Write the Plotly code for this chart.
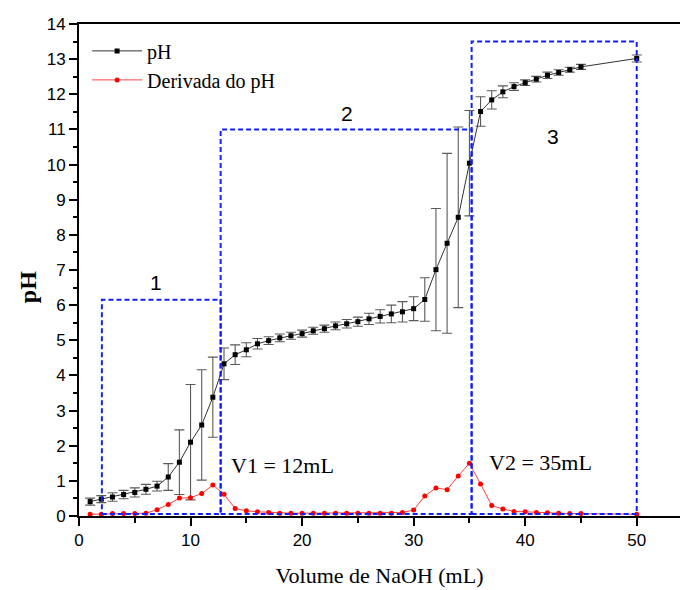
import plotly.graph_objects as go

# ---- data ----
volume_ml = list(range(1, 46)) + [50]

ph_values = [0.41, 0.48, 0.54, 0.61, 0.67, 0.76, 0.85, 1.11, 1.53, 2.10,
             2.59, 3.38, 4.33, 4.59, 4.73, 4.90, 4.99, 5.07, 5.13, 5.19,
             5.27, 5.33, 5.41, 5.47, 5.53, 5.61, 5.68, 5.75, 5.81, 5.90,
             6.16, 7.01, 7.76, 8.50, 10.04, 11.51, 11.84, 12.07, 12.22, 12.33,
             12.43, 12.54, 12.62, 12.70, 12.78, 13.02]

ph_errors = [0.10, 0.10, 0.12, 0.12, 0.13, 0.14, 0.14, 0.38, 0.92, 1.64,
             1.57, 1.14, 0.45, 0.28, 0.20, 0.15, 0.11, 0.11, 0.10, 0.10,
             0.10, 0.10, 0.11, 0.12, 0.13, 0.16, 0.19, 0.25, 0.29, 0.34,
             0.62, 1.74, 2.56, 2.57, 1.50, 0.42, 0.26, 0.17, 0.11, 0.08,
             0.08, 0.09, 0.08, 0.07, 0.07, 0.10]

derivative_values = [0.05, 0.05, 0.07, 0.07, 0.07, 0.08, 0.18, 0.33, 0.51, 0.52,
                     0.64, 0.88, 0.62, 0.21, 0.15, 0.12, 0.10, 0.08, 0.08, 0.08,
                     0.08, 0.08, 0.08, 0.08, 0.08, 0.08, 0.08, 0.08, 0.10, 0.17,
                     0.57, 0.80, 0.75, 1.14, 1.50, 0.91, 0.30, 0.20, 0.13, 0.12,
                     0.10, 0.09, 0.08, 0.07, 0.07, 0.05]

# region boxes (x0, x1, y0, y1) in data units and their labels
region_labels = ["1", "2", "3"]
region_x0 = [2.05, 12.7, 35.2]
region_x1 = [12.7, 35.2, 50.0]
region_y0 = [0.06, 0.06, 0.06]
region_y1 = [6.15, 11.0, 13.5]
region_label_x = [6.9, 24.0, 42.5]
region_label_y = [6.65, 11.45, 10.8]

eq_texts = ["V1 = 12mL", "V2 = 35mL"]
eq_x = [18.2, 41.4]
eq_y = [1.43, 1.52]

x_tick_vals = [0, 10, 20, 30, 40, 50]
y_tick_vals = list(range(0, 15))

SERIF = "Liberation Serif"
SANS = "Liberation Sans"

fig = go.Figure()

fig.add_trace(go.Scatter(
    x=volume_ml, y=ph_values, name="pH", mode="lines+markers",
    line=dict(color="#333333", width=1),
    marker=dict(symbol="square", size=5, color="black"),
    error_y=dict(type="data", array=ph_errors, visible=True,
                 color="#5a5a5a", thickness=1.1, width=5),
))

fig.add_trace(go.Scatter(
    x=volume_ml, y=derivative_values, name="Derivada do pH", mode="lines+markers",
    line=dict(color="#ff4040", width=1),
    marker=dict(symbol="circle", size=5, color="#ff0000"),
))

shapes = []
for x0, x1, y0, y1 in zip(region_x0, region_x1, region_y0, region_y1):
    shapes.append(dict(type="rect", xref="x", yref="y", x0=x0, x1=x1, y0=y0, y1=y1,
                       line=dict(color="#1020ff", width=2, dash="5px,3px"),
                       fillcolor="rgba(0,0,0,0)", layer="above"))

annotations = []
for t, x, y in zip(region_labels, region_label_x, region_label_y):
    annotations.append(dict(x=x, y=y, xref="x", yref="y", text=t, showarrow=False,
                            font=dict(family=SANS, size=21, color="black")))
for t, x, y in zip(eq_texts, eq_x, eq_y):
    annotations.append(dict(x=x, y=y, xref="x", yref="y", text=t, showarrow=False,
                            font=dict(family=SERIF, size=22, color="black")))
# y-axis title (placed slightly below the axis centre, as in the reference)
annotations.append(dict(x=-0.085, y=0.465, xref="paper", yref="paper", text="<b>pH</b>",
                        textangle=-90, showarrow=False, xanchor="center", yanchor="middle",
                        font=dict(family=SERIF, size=24, color="black")))

fig.update_layout(
    width=680, height=590, autosize=False,
    margin=dict(l=79, r=0, t=24, b=74, pad=0),
    paper_bgcolor="white", plot_bgcolor="white",
    shapes=shapes, annotations=annotations,
    showlegend=True,
    legend=dict(x=0.0135, y=0.985, xanchor="left", yanchor="top",
                font=dict(family=SERIF, size=20, color="black"),
                bgcolor="rgba(0,0,0,0)", itemwidth=50, tracegroupgap=0),
    xaxis=dict(range=[0, 53.88], tickvals=x_tick_vals, showgrid=False, zeroline=False,
               showline=True, linecolor="black", linewidth=2, mirror=True,
               ticks="outside", ticklen=8, tickwidth=1.5, tickcolor="black",
               minor=dict(dtick=5, ticks="outside", ticklen=5, tickwidth=1.5, tickcolor="black", showgrid=False),
               tickfont=dict(family=SANS, size=17, color="black"),
               title=dict(text="Volume de NaOH (mL)", font=dict(family=SERIF, size=22, color="black"), standoff=18)),
    yaxis=dict(range=[0, 14], tickvals=y_tick_vals, showgrid=False, zeroline=False,
               showline=True, linecolor="black", linewidth=2,
               ticks="outside", ticklen=8, tickwidth=1.5, tickcolor="black",
               minor=dict(dtick=0.5, ticks="outside", ticklen=4, tickwidth=1.5, tickcolor="black", showgrid=False),
               tickfont=dict(family=SANS, size=17, color="black")),
)

fig.write_html("out.html")
